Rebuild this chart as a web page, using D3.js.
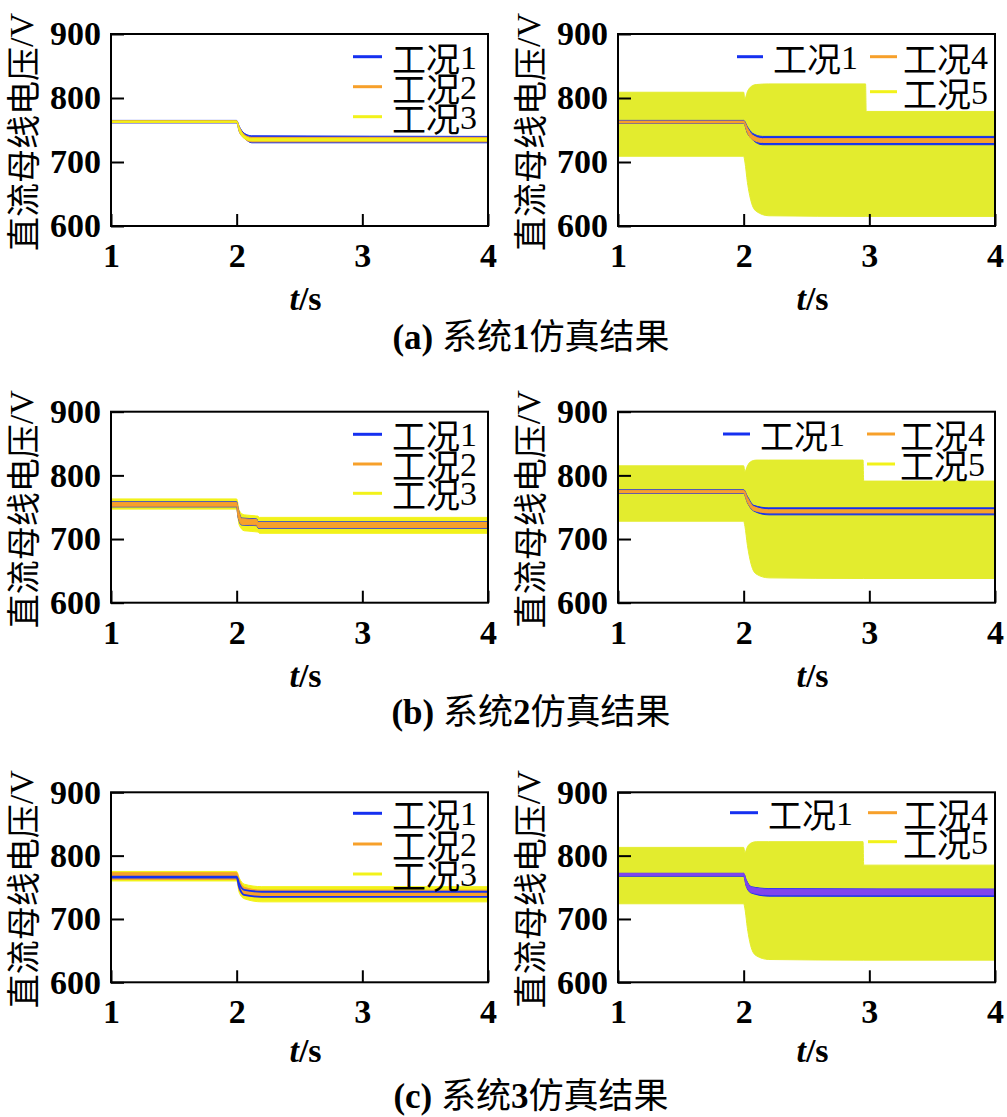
<!DOCTYPE html>
<html><head><meta charset="utf-8">
<script src="https://cdn.jsdelivr.net/npm/d3@7"></script>
<style>body{margin:0;background:#fff;} svg{display:block;}</style>
</head><body><svg id="c" width="1007" height="1117"></svg>
<script>
// ---------- DATA (t [s], lower envelope [V], upper envelope [V]) ----------
const timeTicks = [1, 2, 3, 4];
const voltTicks = [600, 700, 800, 900];
const captions = ["(a) 系统1仿真结果", "(b) 系统2仿真结果", "(c) 系统3仿真结果"];
const namesLeft = ["工况1", "工况2", "工况3"];
const namesRight = ["工况1", "工况4", "工况5"];
const yTitle = "直流母线电压/V";

// System 1
const s1_case1 = [[1,761,765],[2.0,761,765],[2.02,748,756],[2.06,738,745],[2.12,730,741],[4,730,740]];
const s1_case2 = [[1,761.5,764.5],[2.0,761.5,764.5],[2.02,748,755],[2.06,737,743],[2.12,731.5,738.5],[4,731.5,738.5]];
const s1_case3 = [[1,762,764],[2.0,762,764],[2.02,749,754],[2.06,737,741],[2.12,733,737],[4,733,737]];
const s1r_case1 = [[1,760.5,765],[2.0,760.5,765],[2.03,745,755],[2.07,735,745],[2.15,727,740],[4,727,740]];
const s1r_case4 = [[1,761,764],[2.0,761,764],[2.03,746,753],[2.07,735,742],[2.15,730.5,736.5],[4,730.5,736.5]];
const s1r_case5 = [[1,709,809],[2.0,709,809],[2.01,700,799],[2.03,668,810],[2.06,638,818],[2.1,623,821],[2.2,616,822],[2.97,615,822],[2.975,615,779],[4,615,779]];

// System 2
const s2_case1 = [[1,750.5,758.5],[2.0,750.5,758.5],[2.01,735,750],[2.04,722,733],[2.16,721,731.5],[2.17,717,727],[4,717,727]];
const s2_case2 = [[1,751.5,757.5],[2.0,751.5,757.5],[2.01,736,749],[2.04,723,732],[2.16,722,730.5],[2.17,718,726],[4,718,726]];
const s2_case3 = [[1,747,763],[2.0,747,763],[2.02,722,745],[2.06,713,738],[2.17,711,736],[2.18,709,734],[4,709,734]];
const s2r_case1 = [[1,771.5,777.5],[2.0,771.5,777.5],[2.03,757,767],[2.08,744,753],[2.2,738,749],[4,738,749]];
const s2r_case4 = [[1,772.5,776.5],[2.0,772.5,776.5],[2.03,758,765],[2.08,745,751],[2.2,741,746],[4,741,746]];
const s2r_case5 = [[1,728,815],[2.0,728,815],[2.01,720,806],[2.03,690,815],[2.06,660,822],[2.1,645,824],[2.2,639,824],[2.95,638,824],[2.955,638,791],[4,638,791]];

// System 3
const s3_case1 = [[1,765.5,767],[2.0,765.5,767],[2.02,750,756],[2.06,738,746],[2.2,735,743],[4,735,743]];
const s3_case2 = [[1,762.5,773],[2.0,762.5,773],[2.02,746,762],[2.06,737,750],[2.2,734.5,745.5],[4,734.5,745.5]];
const s3_case3 = [[1,760,775],[2.0,760,775],[2.02,742,765],[2.06,732,755],[2.2,727,751],[4,727,751]];
const s3r_case1 = [[1,767.5,772],[2.0,767.5,772],[2.02,752,762],[2.06,741,751],[2.2,736,748],[4,735.5,747]];
const s3r_case4 = [[1,768.5,772],[2.0,768.5,772],[2.02,753,761],[2.06,742,750],[2.2,738,747],[4,738,747]];
const s3r_case5 = [[1,724,813],[2.0,724,813],[2.01,716,805],[2.03,685,814],[2.06,655,820],[2.1,642,822],[2.2,636,822],[2.95,635,822],[2.955,635,785],[4,635,785]];

// ---------- STYLE / LAYOUT ----------
const BLUE = "#1530f0", ORANGE = "#f7a02a", YELLOW = "#f2f21a", YGREEN = "#e3ec2e", VIOLET = "#7f45ee";
const rows = [
  {top: 34, bottom: 226, xlab: 310, cap: 349},
  {top: 411.7, bottom: 602.7, xlab: 687, cap: 724},
  {top: 792.3, bottom: 982.3, xlab: 1062, cap: 1108}
];
const cols = [{left: 111, right: 488}, {left: 618, right: 995}];

const panels = [
  {r:0,c:0,series:[s1_case1,s1_case2,s1_case3],names:namesLeft,colors:[BLUE,ORANGE,YELLOW],legColors:[BLUE,ORANGE,YELLOW],outline:false,
   legend:[{x1:-135,x2:-106,tx:-96,y:22.7},{x1:-135,x2:-106,tx:-96,y:52.7},{x1:-135,x2:-106,tx:-96,y:82.7}]},
  {r:0,c:1,series:[s1r_case1,s1r_case4,s1r_case5],names:namesRight,colors:[BLUE,ORANGE,YGREEN],legColors:[BLUE,ORANGE,YELLOW],outline:false,
   legend:[{x1:-258,x2:-232,tx:-222,y:22.7},{x1:-125,x2:-98,tx:-92,y:22.7},{x1:-125,x2:-98,tx:-92,y:57.7}]},
  {r:1,c:0,series:[s2_case1,s2_case2,s2_case3],names:namesLeft,colors:[BLUE,ORANGE,YELLOW],legColors:[BLUE,ORANGE,YELLOW],outline:false,
   legend:[{x1:-135,x2:-106,tx:-96,y:22.6},{x1:-135,x2:-106,tx:-96,y:52.3},{x1:-135,x2:-106,tx:-96,y:81.6}]},
  {r:1,c:1,series:[s2r_case1,s2r_case4,s2r_case5],names:namesRight,colors:[BLUE,ORANGE,YGREEN],legColors:[BLUE,ORANGE,YELLOW],outline:false,
   legend:[{x1:-272,x2:-245,tx:-235,y:22.3},{x1:-128,x2:-100,tx:-95,y:22.3},{x1:-128,x2:-100,tx:-95,y:52.3}]},
  {r:2,c:0,series:[s3_case1,s3_case2,s3_case3],names:namesLeft,colors:[BLUE,ORANGE,YELLOW],legColors:[BLUE,ORANGE,YELLOW],outline:true,
   legend:[{x1:-135,x2:-106,tx:-96,y:21},{x1:-135,x2:-106,tx:-96,y:51.7},{x1:-135,x2:-106,tx:-96,y:81.7}]},
  {r:2,c:1,series:[s3r_case1,s3r_case4,s3r_case5],names:namesRight,colors:[BLUE,VIOLET,YGREEN],legColors:[BLUE,ORANGE,YELLOW],outline:false,
   legend:[{x1:-265,x2:-237,tx:-227,y:20.4},{x1:-127,x2:-98,tx:-92,y:20.4},{x1:-127,x2:-98,tx:-92,y:49.4}]}
];

const SERIF = "Liberation Serif, serif";
const CJK = "Noto Sans CJK SC";
const svg = d3.select("#c");
const defs = svg.append("defs");

// mixed-script text: CJK runs in CJK font, Latin runs in serif
function mixed(sel, str, latinWeight) {
  (str.match(/[\u3400-\u9fff]+|[^\u3400-\u9fff]+/g) || []).forEach(run => {
    const isCJK = /[\u3400-\u9fff]/.test(run);
    sel.append("tspan").style("font-family", isCJK ? CJK : SERIF)
      .style("font-weight", isCJK ? "normal" : latinWeight).text(run);
  });
  return sel;
}

panels.forEach((p, i) => {
  const R = rows[p.r], C = cols[p.c];
  const x = d3.scaleLinear().domain([1, 4]).range([C.left, C.right]);
  const y = d3.scaleLinear().domain([600, 900]).range([R.bottom, R.top]);
  const g = svg.append("g");

  defs.append("clipPath").attr("id", "clip" + i).append("rect")
    .attr("x", C.left).attr("y", R.top).attr("width", C.right - C.left).attr("height", R.bottom - R.top);

  const area = d3.area().curve(d3.curveMonotoneX)
    .x(d => x(d[0])).y0(d => y(d[1])).y1(d => y(d[2]));
  const line = k => d3.line().curve(d3.curveMonotoneX).x(d => x(d[0])).y(d => y(d[k]));

  const order = p.series.map((s, k) => k)
    .filter(k => !(p.outline && k === 0))
    .sort((a, b) => {
      const la = p.series[a][p.series[a].length - 1], lb = p.series[b][p.series[b].length - 1];
      return (lb[2] - lb[1]) - (la[2] - la[1]);
    });
  const plot = g.append("g").attr("clip-path", `url(#clip${i})`);
  order.forEach(k => {
    plot.append("path").datum(p.series[k]).attr("d", area)
      .attr("fill", p.colors[k]).attr("stroke", p.colors[k]).attr("stroke-width", 1);
  });
  if (p.outline) {
    [1, 2].forEach(k => plot.append("path").datum(p.series[0]).attr("d", line(k))
      .attr("fill", "none").attr("stroke", BLUE).attr("stroke-width", 1.8));
  }

  const ya = g.append("g").attr("transform", `translate(${C.left},0)`)
    .call(d3.axisLeft(y).tickValues(voltTicks).tickSizeInner(-13).tickSizeOuter(0).tickPadding(10));
  const xa = g.append("g").attr("transform", `translate(0,${R.bottom})`)
    .call(d3.axisBottom(x).tickValues(timeTicks).tickSizeInner(-12).tickSizeOuter(0).tickPadding(17).tickFormat(d3.format("d")));
  [ya, xa].forEach(a => {
    a.attr("font-family", null).attr("font-size", null);
    a.select(".domain").remove();
    a.selectAll("line").attr("stroke", "#000").attr("stroke-width", 2);
    a.selectAll("text").style("font-family", SERIF).style("font-size", "34px")
      .style("font-weight", "bold").attr("fill", "#000");
  });

  g.append("rect").attr("x", C.left).attr("y", R.top)
    .attr("width", C.right - C.left).attr("height", R.bottom - R.top)
    .attr("fill", "none").attr("stroke", "#000").attr("stroke-width", 2);

  const yl = g.append("text")
    .attr("transform", `translate(${C.left - 90},${(R.top + R.bottom) / 2 + 2}) rotate(-90)`)
    .attr("text-anchor", "middle").attr("dominant-baseline", "central")
    .style("font-size", "34px");
  mixed(yl, yTitle, "normal");

  const xl = g.append("text").attr("x", (C.left + C.right) / 2 + 6).attr("y", R.xlab)
    .attr("text-anchor", "middle").style("font-family", SERIF).style("font-size", "34px").style("font-weight", "bold");
  xl.append("tspan").style("font-style", "italic").text("t");
  xl.append("tspan").text("/s");

  p.legend.forEach((L, k) => {
    const yy = R.top + L.y;
    g.append("line").attr("x1", C.right + L.x1).attr("x2", C.right + L.x2)
      .attr("y1", yy).attr("y2", yy).attr("stroke", p.legColors[k]).attr("stroke-width", 3);
    const t = g.append("text").attr("x", C.right + L.tx).attr("y", yy)
      .attr("dominant-baseline", "central").style("font-size", "34px");
    mixed(t, p.names[k], "normal");
  });
});

rows.forEach((R, r) => {
  const t = svg.append("text").attr("x", 531).attr("y", R.cap).attr("text-anchor", "middle")
    .style("font-size", "35px");
  mixed(t, captions[r], "bold");
});
</script></body></html>
